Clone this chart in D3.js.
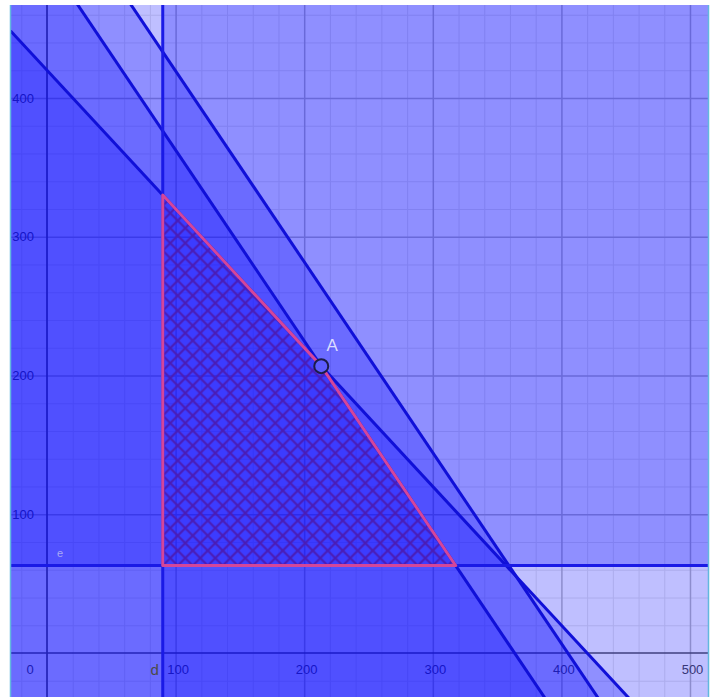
<!DOCTYPE html>
<html>
<head>
<meta charset="utf-8">
<script src="https://cdn.jsdelivr.net/npm/d3@7"></script>
<style>
  body { margin: 0; background: #fff; }
  svg { display: block; }
  text { font-family: "Liberation Sans", Arial, sans-serif; }
</style>
</head>
<body>
<div id="d3-container"></div>
<script>
/* CONSTANTS AND GLOBALS */
const width = 715,
  height = 697,
  plot = { left: 11, right: 708, top: 5, bottom: 697 },
  hatchSize = 15;

/* DATA */
// axis ticks
const xTicks = [0, 100, 200, 300, 400, 500];
const yTicks = [100, 200, 300, 400];
const minorX = [-20, 20, 40, 60, 80, 120, 140, 160, 180, 220, 240, 260, 280, 320, 340, 360, 380, 420, 440, 460, 480];
const minorY = [-20, 20, 40, 60, 80, 120, 140, 160, 180, 220, 240, 260, 280, 320, 340, 360, 380, 420, 440, 460];
const xDomain = [-28, 514];
const yDomain = [-31.7, 467];

// d : x >= 90,  e : y >= 63
const lineD = 90;
const lineE = 63;

// slanted constraints  x / xInt + y / yInt <= 1
const lineNames = ["L1", "L2", "L3"];
const xIntercepts = [420, 363.6, 405];
const yIntercepts = [420, 500, 557];

/* SCALES */
const xScale = d3.scaleLinear().domain(xDomain).range([plot.left, plot.right]);
const yScale = d3.scaleLinear().domain(yDomain).range([plot.bottom, plot.top]);

const lineGen = d3.line().x(d => xScale(d[0])).y(d => yScale(d[1]));

// y on a slanted line at a given x
function yOn(i, x) {
  return yIntercepts[i] * (1 - x / xIntercepts[i]);
}

// corner A = where L1 and L2 meet
function meet(i, j) {
  const a1 = 1 / xIntercepts[i], b1 = 1 / yIntercepts[i];
  const a2 = 1 / xIntercepts[j], b2 = 1 / yIntercepts[j];
  const det = a1 * b2 - a2 * b1;
  return [(b2 - b1) / det, (a1 - a2) / det];
}
const pointA = meet(0, 1);

/* SVG */
const svg = d3
  .select("#d3-container")
  .append("svg")
  .attr("width", width)
  .attr("height", height);

const defs = svg.append("defs");
defs.append("clipPath")
  .attr("id", "plot-clip")
  .append("rect")
  .attr("x", plot.left)
  .attr("y", plot.top)
  .attr("width", plot.right - plot.left)
  .attr("height", plot.bottom - plot.top);

// cross hatch for the feasible region
const h = hatchSize;
const hatch = defs.append("pattern")
  .attr("id", "hatch")
  .attr("patternUnits", "userSpaceOnUse")
  .attr("x", xScale(lineD))
  .attr("y", yScale(lineE))
  .attr("width", h)
  .attr("height", h);
hatch.append("path")
  .attr("d", `M-3,-3L${h + 3},${h + 3}M${h + 3},-3L-3,${h + 3}` +
    `M-3,${h - 3}L3,${h + 3}M${h - 3},-3L${h + 3},3M${h - 3},${h + 3}L${h + 3},${h - 3}M-3,3L3,-3`)
  .attr("stroke", "#4a1cb6")
  .attr("stroke-width", 2.2)
  .attr("fill", "none");

const g = svg.append("g").attr("clip-path", "url(#plot-clip)");

g.append("rect")
  .attr("x", plot.left)
  .attr("y", plot.top)
  .attr("width", plot.right - plot.left)
  .attr("height", plot.bottom - plot.top)
  .attr("fill", "#fff");

/* GRID */
function grid(vals, color, w) {
  g.append("g")
    .attr("transform", `translate(0,${plot.bottom})`)
    .call(d3.axisBottom(xScale).tickValues(vals.x).tickSize(-(plot.bottom - plot.top)).tickFormat(""))
    .call(s => s.select(".domain").remove())
    .selectAll("line").attr("stroke", color).attr("stroke-width", w);
  g.append("g")
    .attr("transform", `translate(${plot.left},0)`)
    .call(d3.axisLeft(yScale).tickValues(vals.y).tickSize(-(plot.right - plot.left)).tickFormat(""))
    .call(s => s.select(".domain").remove())
    .selectAll("line").attr("stroke", color).attr("stroke-width", w);
}
grid({ x: minorX, y: minorY }, "#e6e6e6", 1);
grid({ x: xTicks.slice(1), y: yTicks }, "#bcbcbc", 1.5);

/* AXES */
g.append("line")
  .attr("x1", xScale(0)).attr("x2", xScale(0))
  .attr("y1", plot.top).attr("y2", plot.bottom)
  .attr("stroke", "#555").attr("stroke-width", 1.7);
g.append("line")
  .attr("x1", plot.left).attr("x2", plot.right)
  .attr("y1", yScale(0)).attr("y2", yScale(0))
  .attr("stroke", "#555").attr("stroke-width", 1.7);

const xAxis = g.append("g")
  .attr("transform", `translate(0,${yScale(0)})`)
  .call(d3.axisBottom(xScale).tickValues(xTicks.slice(1)).tickSize(0).tickPadding(12));
xAxis.select(".domain").remove();
xAxis.selectAll("text").attr("dx", 2);

const yAxis = g.append("g")
  .attr("transform", `translate(${xScale(0)},0)`)
  .call(d3.axisLeft(yScale).tickValues(yTicks).tickSize(0).tickPadding(13));
yAxis.select(".domain").remove();

g.append("text")
  .attr("x", xScale(0) - 17)
  .attr("y", yScale(0) + 21)
  .attr("text-anchor", "middle")
  .text("0");

g.selectAll(".tick text, text")
  .attr("font-size", 13)
  .attr("fill", "#4a4a4a")
  .attr("font-family", "Liberation Sans, Arial, sans-serif");

/* SHADED HALF PLANES */
const far = [-300, 900];
const halfPlanes = [
  [[lineD, far[0]], [far[1], far[0]], [far[1], far[1]], [lineD, far[1]]],
  [[far[0], lineE], [far[1], lineE], [far[1], far[1]], [far[0], far[1]]]
].concat(lineNames.map((n, i) => [
  [far[0], yOn(i, far[0])], [far[1], yOn(i, far[1])], [far[1], far[0]], [far[0], far[0]]
]));

g.selectAll(".half")
  .data(halfPlanes)
  .join("path")
  .attr("class", "half")
  .attr("d", d => lineGen(d) + "Z")
  .attr("fill", "rgb(0,0,255)")
  .attr("fill-opacity", 0.25);

/* FEASIBLE REGION */
const feasible = [
  [lineD, lineE],
  [lineD, yOn(0, lineD)],
  pointA,
  [xIntercepts[1] * (1 - lineE / yIntercepts[1]), lineE]
];

g.append("path")
  .attr("d", lineGen(feasible) + "Z")
  .attr("fill", "url(#hatch)");

/* BOUNDARY LINES */
g.selectAll(".slant")
  .data(lineNames)
  .join("path")
  .attr("class", "slant")
  .attr("d", (n, i) => lineGen([[far[0], yOn(i, far[0])], [far[1], yOn(i, far[1])]]))
  .attr("stroke", "#1010d8")
  .attr("stroke-width", 3)
  .attr("fill", "none");

g.append("line")
  .attr("x1", xScale(lineD)).attr("x2", xScale(lineD))
  .attr("y1", plot.top).attr("y2", plot.bottom)
  .attr("stroke", "#1a1ae6").attr("stroke-width", 3);
g.append("line")
  .attr("x1", plot.left).attr("x2", plot.right)
  .attr("y1", yScale(lineE)).attr("y2", yScale(lineE))
  .attr("stroke", "#1a1ae6").attr("stroke-width", 3);

g.append("path")
  .attr("d", lineGen(feasible) + "Z")
  .attr("fill", "none")
  .attr("stroke", "#d4469a")
  .attr("stroke-width", 3)
  .attr("stroke-linejoin", "round");

/* POINT A AND LABELS */
g.append("circle")
  .attr("cx", xScale(pointA[0]))
  .attr("cy", yScale(pointA[1]))
  .attr("r", 7)
  .attr("fill", "#5c5cff")
  .attr("stroke", "#1c1c48")
  .attr("stroke-width", 2);

g.append("text")
  .attr("x", xScale(pointA[0]) + 11)
  .attr("y", yScale(pointA[1]) - 15)
  .attr("text-anchor", "middle")
  .attr("font-size", 17)
  .attr("fill", "#dcdcff")
  .text("A");

g.append("text")
  .attr("x", xScale(0) + 13)
  .attr("y", yScale(lineE) - 9)
  .attr("text-anchor", "middle")
  .attr("font-size", 11)
  .attr("fill", "#a8a8f4")
  .text("e");

g.append("text")
  .attr("x", xScale(lineD) - 8)
  .attr("y", yScale(0) + 22)
  .attr("text-anchor", "middle")
  .attr("font-size", 15)
  .attr("fill", "#4a4a4a")
  .text("d");

/* FRAME */
svg.selectAll(".frame")
  .data([plot.left - 0.5, plot.right + 0.5])
  .join("line")
  .attr("class", "frame")
  .attr("x1", d => d).attr("x2", d => d)
  .attr("y1", plot.top).attr("y2", plot.bottom)
  .attr("stroke", "#62b8de")
  .attr("stroke-width", 1.5);
</script>
</body>
</html>
